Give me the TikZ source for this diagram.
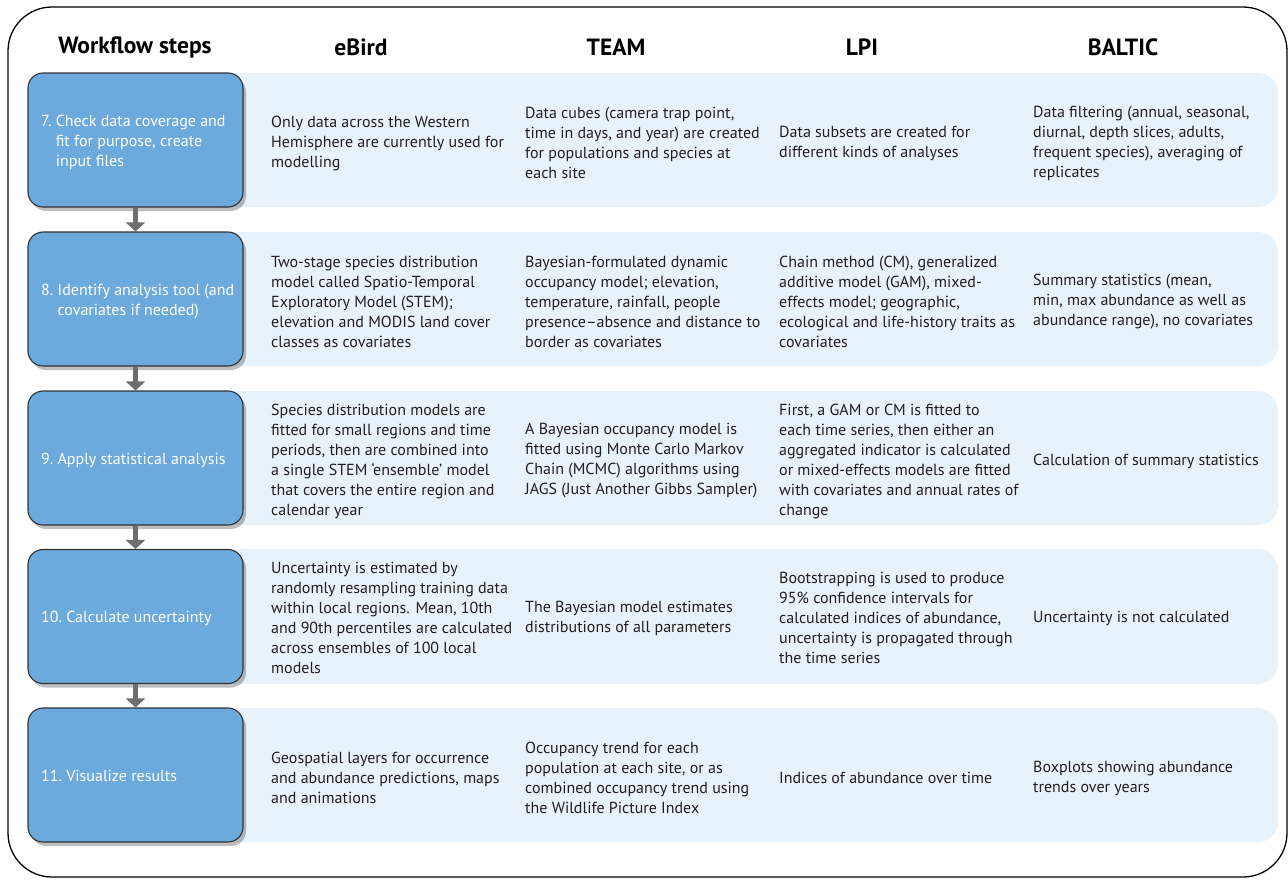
\documentclass[tikz,border=0pt]{standalone}
\usepackage{fontspec}
\setmainfont{PT Sans}
\usetikzlibrary{shadows,arrows.meta}
\definecolor{stepblue}{RGB}{108,170,221}
\definecolor{bandblue}{RGB}{232,242,250}
\definecolor{arrowgray}{RGB}{110,110,110}
\definecolor{textdark}{RGB}{35,31,32}
\definecolor{boxedge}{RGB}{50,50,50}
\tikzset{
  band/.style={fill=bandblue, rounded corners=20pt},
  stepbox/.style={draw=boxedge, line width=1.1pt, fill=stepblue, rounded corners=15pt,
    minimum width=215pt, minimum height=134pt, inner sep=0pt,
    drop shadow={shadow xshift=3pt, shadow yshift=-4pt, opacity=0.25, fill=black}},
  steplabel/.style={anchor=west, align=left, inner sep=0pt, text=white,
    font=\fontsize{16}{20}\selectfont},
  cell/.style={anchor=west, align=left, inner sep=0pt, text=textdark,
    font=\fontsize{16}{20}\selectfont},
  head/.style={font=\fontsize{23.5}{26}\selectfont\bfseries, text=black},
  flow/.style={draw=arrowgray, line width=5pt, -{Triangle[width=19pt,length=9pt]}, fill=arrowgray}
}
\newcommand{\steptext}[2]{\begin{tabular}{@{}l@{\ }l@{}}#1 & #2\end{tabular}}
\begin{document}
\begin{tikzpicture}[x=1pt,y=-1pt]
\useasboundingbox (0,0) rectangle (1288,879);
\draw[line width=1.3pt, rounded corners=44pt] (8,7) rectangle (1287,877);

% headers
\node[head] (h0) at (135,47) {Workflow steps};
\node[head] (h1) at (361,47) {eBird};
\node[head] (h2) at (616,47) {TEAM};
\node[head] (h3) at (862,47) {LPI};
\node[head] (h4) at (1123,47) {BALTIC};

% bands
\fill[band] (200,73) rectangle (1278,207);
\fill[band] (200,232) rectangle (1278,366);
\fill[band] (200,391) rectangle (1278,525);
\fill[band] (200,549) rectangle (1278,684);
\fill[band] (200,708) rectangle (1278,842);

% step boxes
\node[stepbox] (s7) at (135.5,140) {};
\node[stepbox] (s8) at (135.5,299) {};
\node[stepbox] (s9) at (135.5,458) {};
\node[stepbox] (s10) at (135.5,616.5) {};
\node[stepbox] (s11) at (135.5,775) {};
\node[steplabel] (p7) at (41,142) {\steptext{7.}{Check data coverage and\\ & fit for purpose, create\\ & input files}};
\node[steplabel] (p8) at (41,301) {\steptext{8.}{Identify analysis tool (and\\ & covariates if needed)}};
\node[steplabel] (p9) at (41,460) {\steptext{9.}{Apply statistical analysis}};
\node[steplabel] (p10) at (41,618) {\steptext{10.}{Calculate uncertainty}};
\node[steplabel] (p11) at (41,777) {\steptext{11.}{Visualize results}};

% arrows
\draw[flow] (s7.south) -- (s8.north);
\draw[flow] (s8.south) -- (s9.north);
\draw[flow] (s9.south) -- (s10.north);
\draw[flow] (s10.south) -- (s11.north);

% row 7
\node[cell] (e7) at (271,143) {Only data across the Western\\Hemisphere are currently used for\\modelling};
\node[cell] (t7) at (525,143) {Data cubes (camera trap point,\\time in days, and year) are created\\for populations and species at\\each site};
\node[cell] (l7) at (779,143) {Data subsets are created for\\different kinds of analyses};
\node[cell] (b7) at (1033,143) {Data filtering (annual, seasonal,\\diurnal, depth slices, adults,\\frequent species), averaging of\\replicates};

% row 8
\node[cell] (e8) at (271,302) {Two-stage species distribution\\model called Spatio-Temporal\\Exploratory Model (STEM);\\elevation and MODIS land cover\\classes as covariates};
\node[cell] (t8) at (525,302) {Bayesian-formulated dynamic\\occupancy model; elevation,\\temperature, rainfall, people\\presence--absence and distance to\\border as covariates};
\node[cell] (l8) at (779,302) {Chain method (CM), generalized\\additive model (GAM), mixed-\\effects model; geographic,\\ecological and life-history traits as\\covariates};
\node[cell] (b8) at (1033,302) {Summary statistics (mean,\\min, max abundance as well as\\abundance range), no covariates};

% row 9
\node[cell] (e9) at (271,461) {Species distribution models are\\fitted for small regions and time\\periods, then are combined into\\a single STEM ‘ensemble’ model\\that covers the entire region and\\calendar year};
\node[cell] (t9) at (525,461) {A Bayesian occupancy model is\\fitted using Monte Carlo Markov\\Chain (MCMC) algorithms using\\JAGS (Just Another Gibbs Sampler)};
\node[cell] (l9) at (779,461) {First, a GAM or CM is fitted to\\each time series, then either an\\aggregated indicator is calculated\\or mixed-effects models are fitted\\with covariates and annual rates of\\change};
\node[cell] (b9) at (1033,461) {Calculation of summary statistics};

% row 10
\node[cell] (e10) at (271,618) {Uncertainty is estimated by\\randomly resampling training data\\within local regions. Mean, 10th\\and 90th percentiles are calculated\\across ensembles of 100 local\\models};
\node[cell] (t10) at (525,618) {The Bayesian model estimates\\distributions of all parameters};
\node[cell] (l10) at (779,618) {Bootstrapping is used to produce\\95\% confidence intervals for\\calculated indices of abundance,\\uncertainty is propagated through\\the time series};
\node[cell] (b10) at (1033,618) {Uncertainty is not calculated};

% row 11
\node[cell] (e11) at (271,778) {Geospatial layers for occurrence\\and abundance predictions, maps\\and animations};
\node[cell] (t11) at (525,778) {Occupancy trend for each\\population at each site, or as\\combined occupancy trend using\\the Wildlife Picture Index};
\node[cell] (l11) at (779,778) {Indices of abundance over time};
\node[cell] (b11) at (1033,778) {Boxplots showing abundance\\trends over years};
\end{tikzpicture}
\end{document}
